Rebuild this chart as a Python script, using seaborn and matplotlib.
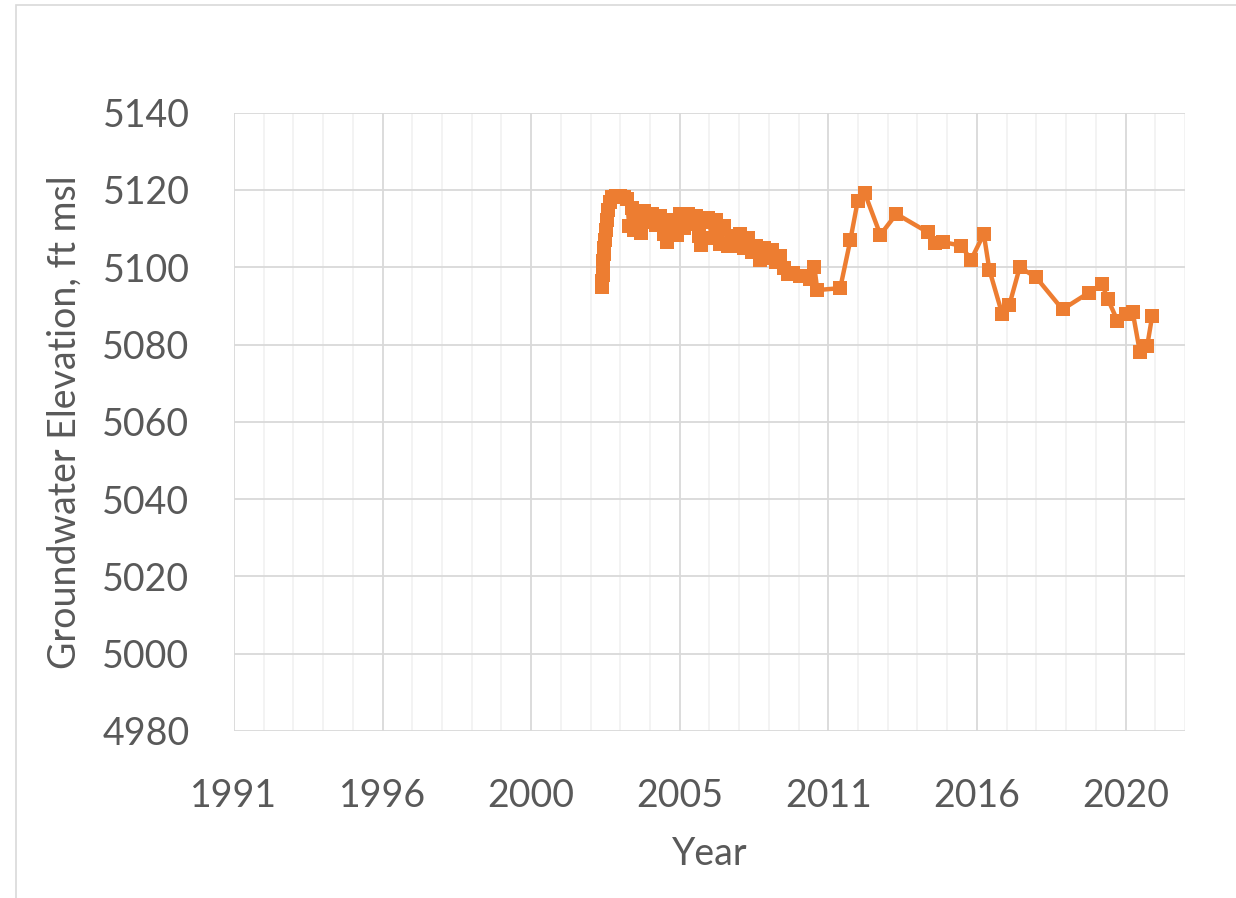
import matplotlib
matplotlib.use("Agg")
import matplotlib.pyplot as plt
import seaborn as sns
import numpy as np
from matplotlib.patches import Rectangle

# x positions on the chart's date axis (axis years, 5 per major division)
year_pos = [
    2003.39, 2003.39, 2003.42, 2003.42, 2003.42, 2003.46, 2003.46, 2003.49, 2003.53, 2003.56,
    2003.59, 2003.66, 2003.73, 2003.86, 2004.00, 2004.13, 2004.23, 2004.30, 2004.40, 2004.47,
    2004.60, 2004.70, 2004.80, 2004.94, 2005.07, 2005.21, 2005.34, 2005.48, 2005.58, 2005.68,
    2005.81, 2005.91, 2006.02, 2006.15, 2006.29, 2006.42, 2006.56, 2006.66, 2006.72, 2006.82,
    2006.96, 2007.09, 2007.23, 2007.36, 2007.50, 2007.63, 2007.77, 2007.90, 2008.04, 2008.17,
    2008.31, 2008.44, 2008.58, 2008.71, 2008.85, 2008.98, 2009.11, 2009.25, 2009.38, 2009.52,
    2009.65, 2009.82, 2010.06, 2010.39, 2010.53, 2010.63, 2011.40, 2011.74, 2011.99, 2012.22,
    2012.75, 2013.29, 2014.36, 2014.60, 2014.86, 2015.47, 2015.80, 2016.23, 2016.42, 2016.85,
    2017.09, 2017.44, 2017.99, 2018.88, 2019.76, 2020.21, 2020.41, 2020.73, 2021.03, 2021.24,
    2021.48, 2021.73, 2021.90,
]
elevation = [
    5094.9, 5096.5, 5098.0, 5099.8, 5101.6, 5103.4, 5105.0, 5107.1, 5109.7, 5112.3,
    5114.8, 5116.9, 5118.2, 5118.5, 5118.5, 5118.2, 5117.7, 5110.6, 5115.3, 5109.6,
    5114.3, 5108.9, 5114.6, 5111.7, 5113.8, 5111.0, 5113.3, 5108.6, 5106.5, 5110.7,
    5112.3, 5108.4, 5113.8, 5110.2, 5113.8, 5111.2, 5113.3, 5108.1, 5105.8, 5111.7,
    5112.8, 5107.6, 5112.3, 5106.0, 5110.7, 5105.5, 5108.1, 5105.5, 5108.6, 5105.0,
    5107.6, 5104.0, 5105.5, 5101.9, 5105.0, 5102.4, 5104.5, 5101.4, 5102.9, 5099.8,
    5098.2, 5098.5, 5097.7, 5096.9, 5100.0, 5094.1, 5094.6, 5107.0, 5117.2, 5119.3,
    5108.4, 5113.8, 5109.0, 5106.4, 5106.5, 5105.6, 5101.9, 5108.6, 5099.3, 5087.9,
    5090.2, 5100.0, 5097.4, 5089.1, 5093.4, 5095.6, 5091.7, 5086.1, 5087.9, 5088.5,
    5078.2, 5079.7, 5087.5,
]
x_tick_pos = [1991, 1996, 2001, 2006, 2011, 2016, 2021]
x_tick_labels = ["1991", "1996", "2000", "2005", "2011", "2016", "2020"]
y_ticks = [4980, 5000, 5020, 5040, 5060, 5080, 5100, 5120, 5140]

sns.set_theme(style="white")
plt.rcParams['font.family'] = ['Lato', 'DejaVu Sans']

fig = plt.figure(figsize=(12.36, 8.98), dpi=100)
ax = fig.add_axes([0.1893, 0.1860, 0.7694, 0.6885])

sns.lineplot(x=year_pos, y=elevation, sort=False, ax=ax, color='#ED7D31',
             linewidth=3.2, marker='s', markersize=10.5, markeredgewidth=0,
             estimator=None)

ax.set_xlim(1991, 2023)
ax.set_ylim(4980, 5140)
ax.set_xticks(x_tick_pos)
ax.set_xticklabels(x_tick_labels)
ax.set_xticks(np.arange(1991, 2024, 1), minor=True)
ax.set_yticks(y_ticks)

ax.grid(which='minor', axis='x', color='#f2f2f2', linewidth=1.3)
ax.grid(which='major', axis='x', color='#d9d9d9', linewidth=1.3)
ax.grid(which='major', axis='y', color='#d9d9d9', linewidth=1.3)
ax.set_axisbelow(True)
for s in ax.spines.values():
    s.set_visible(False)

ax.tick_params(axis='both', which='both', length=0, labelsize=27, colors='#595959')
ax.tick_params(axis='x', pad=34)
ax.tick_params(axis='y', pad=32)

ax.set_xlabel('Year', fontsize=27, color='#595959', labelpad=16)
ax.set_ylabel('Groundwater Elevation, ft msl', fontsize=27, color='#595959', labelpad=14)

# chart area border
fig.patches.append(Rectangle((16 / 1236, -0.05), 1.1, 1 - 5 / 898 + 0.05,
                             transform=fig.transFigure, fill=False,
                             edgecolor='#d9d9d9', linewidth=1.2))

fig.savefig('out.png', dpi=100)
